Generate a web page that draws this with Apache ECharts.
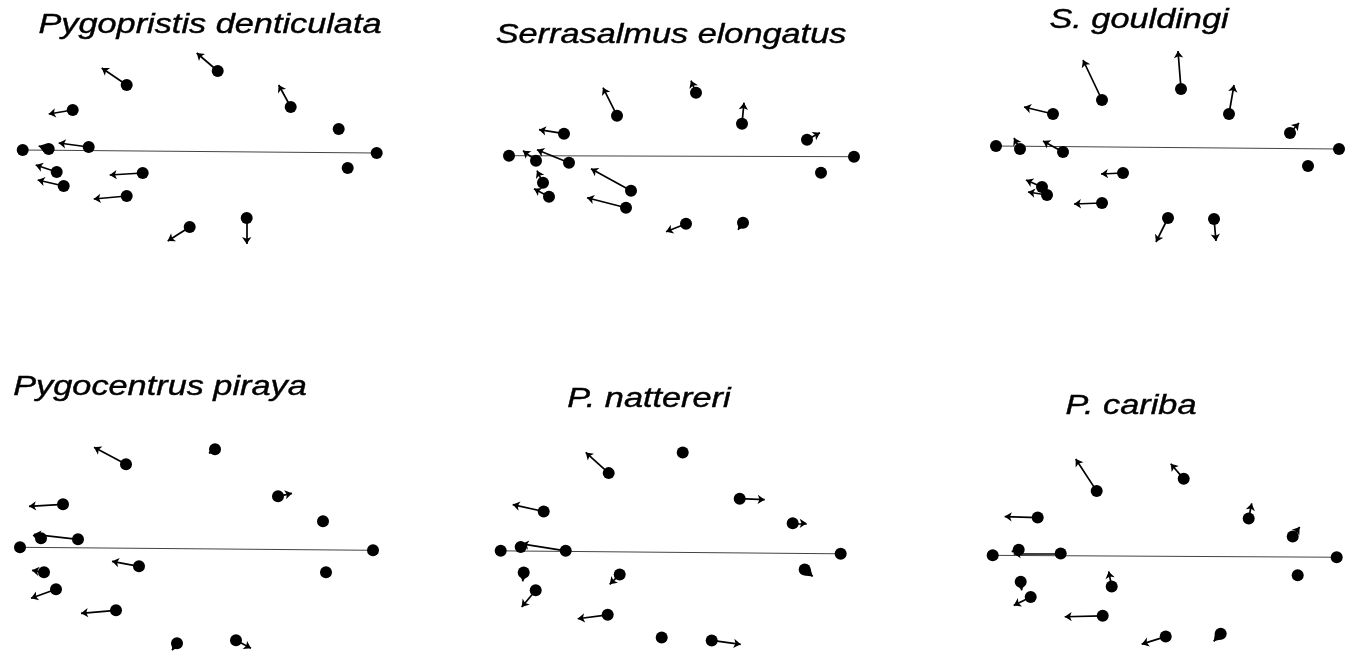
<!DOCTYPE html>
<html>
<head>
<meta charset="utf-8">
<script src="https://cdn.jsdelivr.net/npm/echarts@6/dist/echarts.min.js"></script>
<style>
  html, body { margin: 0; padding: 0; background: #fff; }
  #main { width: 1359px; height: 664px; }
</style>
</head>
<body>
<div id="main"></div>
<script>
// species names, one per panel
const titles = ['Pygopristis denticulata', 'Serrasalmus elongatus', 'S. gouldingi',
  'Pygocentrus piraya', 'P. nattereri', 'P. cariba']

// landmarks: [x, y, dx, dy] -- position relative to landmark 1, and shape change vector
const pygopristis = [
  [0, 0, 0, 0], [26, 1, -10, 3], [66, 3, -30, 4], [354, -3, 0, 0],
  [50, 40, -24, -4], [104, 65, -25, 17], [195, 79, -21, 18], [268, 43, -12, 22],
  [316, 21, 0, 0], [325, -18, 0, 0], [34, -22, -21, 7], [41, -36, -26, 6],
  [120, -23, -33, -2], [104, -46, -33, -3], [167, -77, -22, -14], [224, -68, 0, -26]
]
const serrasalmus = [
  [0, 0, 0, 0], [27, -5, -13, 10], [60, -7, -32, 13], [345, -1, 0, 0],
  [55, 22, -25, 4], [108, 40, -14, 28], [187, 63, -5, 12], [233, 32, 2, 21],
  [298, 16, 13, 7], [312, -17, 0, 0], [34, -27, -6, 12], [40, -41, -15, 8],
  [122, -35, -40, 22], [117, -52, -39, 10], [177, -68, -20, -8], [234, -67, -5, -7]
]
const gouldingi = [
  [0, 0, 0, 0], [24, -3, -6, 11], [67, -6, -20, 11], [343, -3, 0, 0],
  [57, 32, -29, 7], [106, 46, -19, 40], [185, 57, -3, 38], [233, 32, 5, 29],
  [294, 13, 9, 10], [312, -20, 0, 0], [127, -27, -22, -1], [46, -41, -16, 7],
  [51, -49, -19, 3], [106, -57, -28, -1], [172, -72, -12, -24], [218, -73, 2, -22]
]
const piraya = [
  [0, 0, 0, 0], [21, 9, -8, 3], [58, 8, -44, 5], [353, -3, 0, 0],
  [43, 43, -34, -2], [106, 83, -32, 17], [195, 98, -6, -4], [258, 51, 14, 3],
  [303, 26, 5, 1], [306, -25, 0, 0], [24, -25, -12, 2], [36, -42, -25, -9],
  [119, -19, -27, 5], [96, -63, -35, -3], [157, -96, -5, -7], [216, -93, 15, -8]
]
const nattereri = [
  [0, 0, 0, 0], [20, 4, 0, 0], [65, 0, -44, 7], [340, -3, 0, 0],
  [43, 40, -31, 7], [108, 79, -23, 21], [182, 100, 0, 0], [239, 53, 25, -1],
  [292, 28, 14, 0], [304, -19, 8, -7], [23, -22, -1, -9], [35, -40, -14, -17],
  [119, -24, -10, -10], [107, -65, -30, -4], [161, -88, 0, 0], [211, -91, 29, -4]
]
const cariba = [
  [0, 0, 0, 0], [26, 6, -7, -2], [68, 2, -47, 0], [344, -2, 0, 0],
  [45, 40, -33, 1], [104, 68, -21, 34], [191, 81, -13, 16], [256, 39, 3, 16],
  [300, 20, 7, 10], [305, -21, 0, 0], [28, -28, 1, -9], [38, -44, -17, -9],
  [119, -33, -3, 16], [110, -64, -38, -1], [173, -86, -24, -8], [228, -83, -7, -8]
]

const panels = [pygopristis, serrasalmus, gouldingi, piraya, nattereri, cariba]

// where landmark 1 of each panel sits on the page, and title centres
const origin = [[22.7, 150], [509, 155.7], [996, 146], [20, 547.3], [500.7, 552.7], [992.7, 561.7]]
const titlePos = [[210, 25], [671, 35], [1139, 20], [160, 387], [649, 399], [1131, 406]]

let chart = echarts.init(document.querySelector('#main'))

let grid = [], xAxis = [], yAxis = [], series = [], graphic = []

panels.forEach(function (rows, i) {
  grid.push({
    left: origin[i][0] - 15,
    top: origin[i][1] - 115,
    width: 375,
    height: 230
  })
  xAxis.push({ gridIndex: i, type: 'value', min: -15, max: 360, show: false })
  yAxis.push({ gridIndex: i, type: 'value', min: -115, max: 115, show: false })

  // baseline between landmark 1 and 4
  series.push({
    type: 'lines',
    coordinateSystem: 'cartesian2d',
    xAxisIndex: i,
    yAxisIndex: i,
    symbol: 'none',
    lineStyle: { color: '#444', width: 1, opacity: 1 },
    data: [{ coords: [[rows[0][0], rows[0][1]], [rows[3][0], rows[3][1]]] }],
    z: 1
  })

  // shape change vectors
  series.push({
    type: 'lines',
    coordinateSystem: 'cartesian2d',
    xAxisIndex: i,
    yAxisIndex: i,
    symbol: ['none', 'arrow'],
    symbolSize: 7,
    lineStyle: { color: '#000', width: 1.7, opacity: 1 },
    data: rows.filter(r => r[2] || r[3])
      .map(r => ({ coords: [[r[0], r[1]], [r[0] + r[2], r[1] + r[3]]] })),
    z: 2
  })

  // landmarks
  series.push({
    type: 'scatter',
    xAxisIndex: i,
    yAxisIndex: i,
    symbol: 'circle',
    symbolSize: 12,
    itemStyle: { color: '#000', opacity: 1 },
    data: rows.map(r => [r[0], r[1]]),
    z: 3
  })

  graphic.push({
    type: 'text',
    x: titlePos[i][0],
    y: titlePos[i][1],
    scaleX: 1.27,
    style: {
      text: titles[i],
      font: 'italic 27px "Liberation Sans", Arial, sans-serif',
      fill: '#000',
      stroke: '#000',
      lineWidth: 0.4,
      textAlign: 'center',
      textVerticalAlign: 'middle'
    }
  })
})

chart.setOption({
  animation: false,
  grid: grid,
  xAxis: xAxis,
  yAxis: yAxis,
  graphic: graphic,
  series: series
})
</script>
</body>
</html>
